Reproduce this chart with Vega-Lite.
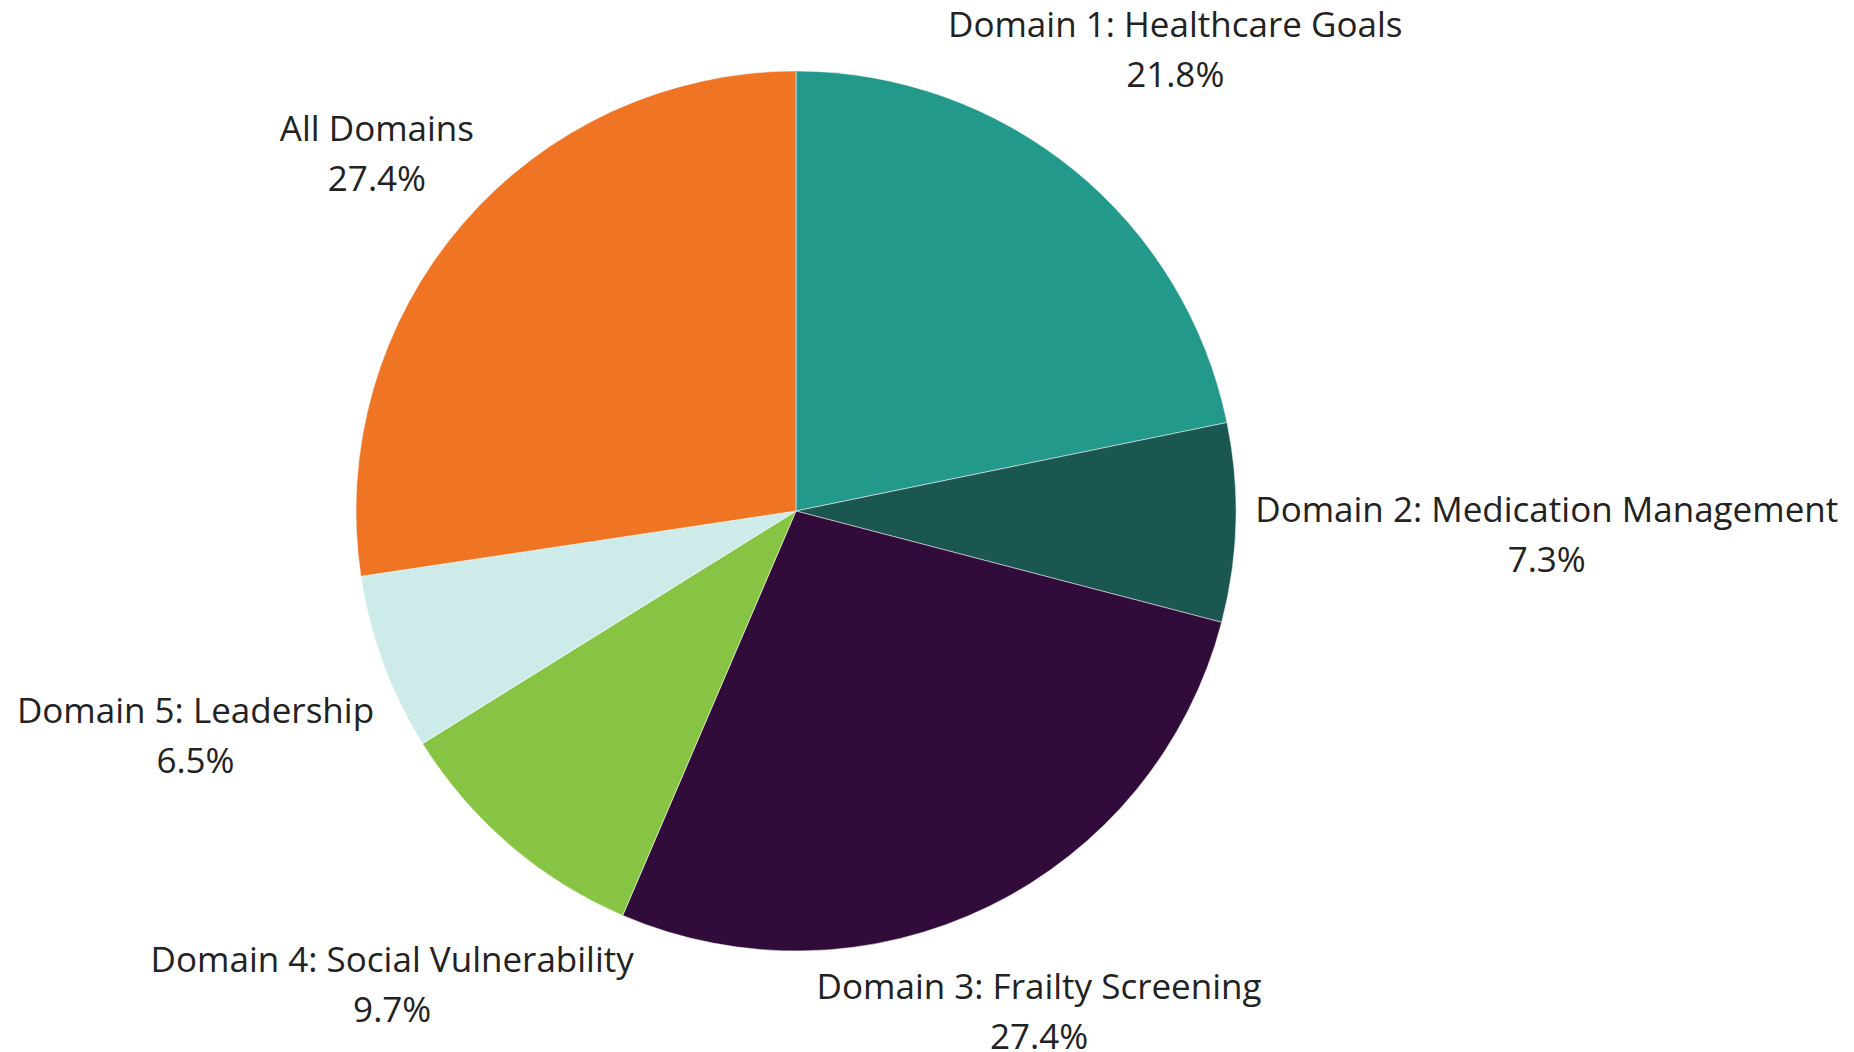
{
  "$schema": "https://vega.github.io/schema/vega-lite/v6.json",
  "width": 1592,
  "height": 1022,
  "autosize": "none",
  "padding": {"left": 0, "top": 0, "right": 262, "bottom": 30},
  "background": "white",
  "config": {"view": {"stroke": null}, "text": {"font": "Open Sans", "fontSize": 35, "lineHeight": 50, "color": "#222222", "lineBreak": "\n", "dy": -20}},
  "data": {
    "values": [
      {"rank": 1, "name": "Domain 1: Healthcare Goals", "value": 21.8, "label": "Domain 1: Healthcare Goals\n21.8%"},
      {"rank": 2, "name": "Domain 2: Medication Management", "value": 7.3, "label": "Domain 2: Medication Management\n7.3%"},
      {"rank": 3, "name": "Domain 3: Frailty Screening", "value": 27.4, "label": "Domain 3: Frailty Screening\n27.4%"},
      {"rank": 4, "name": "Domain 4: Social Vulnerability", "value": 9.7, "label": "Domain 4: Social Vulnerability\n9.7%"},
      {"rank": 5, "name": "Domain 5: Leadership", "value": 6.5, "label": "Domain 5: Leadership\n6.5%"},
      {"rank": 6, "name": "All Domains", "value": 27.4, "label": "All Domains\n27.4%"}
    ]
  },
  "encoding": {
    "theta": {"field": "value", "type": "quantitative", "stack": true},
    "order": {"field": "rank", "type": "quantitative"}
  },
  "layer": [
    {
      "mark": {"type": "arc", "radius": 440, "stroke": "white", "strokeWidth": 0.5},
      "encoding": {
        "color": {
          "field": "name", "type": "nominal", "legend": null,
          "scale": {
            "domain": ["Domain 1: Healthcare Goals", "Domain 2: Medication Management", "Domain 3: Frailty Screening", "Domain 4: Social Vulnerability", "Domain 5: Leadership", "All Domains"],
            "range": ["#22998A", "#1A5751", "#310C3B", "#88C443", "#CDEBE8", "#EF7423"]
          }
        }
      }
    },
    {
      "mark": {"type": "text", "radius": 600},
      "encoding": {"detail": {"field": "name"}, "text": {"condition": {"test": "datum.name === 'Domain 1: Healthcare Goals'", "field": "label"}, "value": ""}}
    },
    {
      "mark": {"type": "text", "radius": 751},
      "encoding": {"detail": {"field": "name"}, "text": {"condition": {"test": "datum.name === 'Domain 2: Medication Management'", "field": "label"}, "value": ""}}
    },
    {
      "mark": {"type": "text", "radius": 553},
      "encoding": {"detail": {"field": "name"}, "text": {"condition": {"test": "datum.name === 'Domain 3: Frailty Screening'", "field": "label"}, "value": ""}}
    },
    {
      "mark": {"type": "text", "radius": 620},
      "encoding": {"detail": {"field": "name"}, "text": {"condition": {"test": "datum.name === 'Domain 4: Social Vulnerability'", "field": "label"}, "value": ""}}
    },
    {
      "mark": {"type": "text", "radius": 640},
      "encoding": {"detail": {"field": "name"}, "text": {"condition": {"test": "datum.name === 'Domain 5: Leadership'", "field": "label"}, "value": ""}}
    },
    {
      "mark": {"type": "text", "radius": 553},
      "encoding": {"detail": {"field": "name"}, "text": {"condition": {"test": "datum.name === 'All Domains'", "field": "label"}, "value": ""}}
    }
  ]
}
